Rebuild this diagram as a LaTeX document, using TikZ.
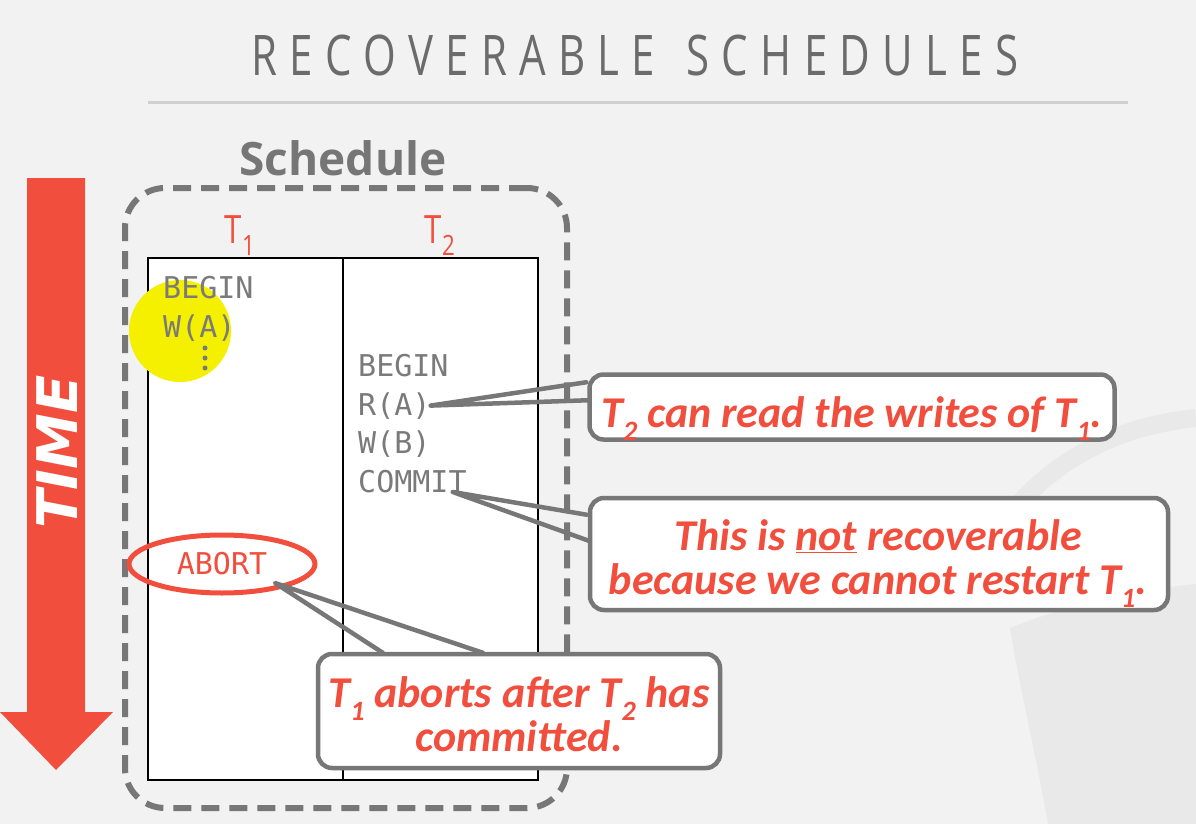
\documentclass[tikz,border=0pt]{standalone}
\usepackage{fontspec}
\usetikzlibrary{positioning,shapes.geometric,calc}
\setmainfont{Open Sans}
\newfontfamily\titlefont{Open Sans}[FakeStretch=0.75,LetterSpace=22]
\newfontfamily\labelfont{Open Sans}[FakeStretch=0.8]
\newfontfamily\codefont{DejaVu Sans Mono}
\newfontfamily\notefont{Carlito}
\newfontfamily\timefont{DejaVu Sans}
\definecolor{bggray}{HTML}{F2F2F2}
\definecolor{titlegray}{HTML}{6B6B6B}
\definecolor{headgray}{HTML}{767676}
\definecolor{linegray}{HTML}{777777}
\definecolor{codegray}{HTML}{7A7A7A}
\definecolor{rulegray}{HTML}{D0D0D0}
\definecolor{dbred}{HTML}{F14E3D}
\definecolor{hilite}{HTML}{F5F000}
\definecolor{wmark}{HTML}{E9E9E9}
\newcommand{\subidx}[2][28]{\raisebox{-0.3em}[0pt][0pt]{\fontsize{#1}{#1}\selectfont #2}}

\begin{document}
\begin{tikzpicture}[x=1pt,y=-1pt,
    code/.style={font=\codefont\fontsize{30}{30}\selectfont,text=codegray,inner sep=0pt,anchor=base west},
    notebox/.style={draw=linegray,line width=4.5pt,fill=white,rounded corners=14pt},
    notetext/.style={align=center,text=dbred,inner sep=0pt,font=\notefont\bfseries\itshape\fontsize{44}{44}\selectfont},
    pointer/.style={draw=linegray,line width=4.5pt,line join=round,line cap=round},
    txlabel/.style={text=dbred,font=\labelfont\fontsize{39}{39}\selectfont}]
    \fill[bggray] (0,0) rectangle (1196,824);
    \useasboundingbox (0,0) rectangle (1196,824);

    % faint logo in the background
    \draw[wmark,line width=18pt] (1005,520) .. controls (1060,450) and (1130,425) .. (1196,418);
    \fill[wmark] (1010,628) .. controls (1080,600) and (1150,588) .. (1196,584) -- (1196,824) -- (1048,824) .. controls (1035,750) and (1020,690) .. (1010,628) -- cycle;

    % title
    \node[anchor=base,text=titlegray,font=\titlefont\fontsize{56}{56}\selectfont] (title) at (635,76) {RECOVERABLE\hspace{8pt} SCHEDULES};
    \draw[rulegray,line width=3pt] (148,103) -- (1128,103);

    % time arrow
    \fill[dbred] (27,178) -- (85,178) -- (85,712) -- (113,712) -- (56,770) -- (0,712) -- (27,712) -- cycle;
    \node[rotate=90,text=white,font=\timefont\bfseries\itshape\fontsize{56}{56}\selectfont] (time) at (57,452) {TIME};

    % schedule
    \node[draw=linegray,line width=6pt,dash pattern=on 18pt off 10pt,rounded corners=40pt,
        minimum width=442pt,minimum height=620pt] (sched) at (346,498) {};
    \node[text=headgray,font=\bfseries\fontsize{46}{46}\selectfont] (schedlabel) at (343,158) {Schedule};
    \node[draw,line width=1.5pt,fill=white,minimum width=390pt,minimum height=522pt] (tbl) at (343,519) {};
    \draw[line width=1.5pt] (tbl.north) -- (tbl.south);
    \fill[hilite] (180,331) circle (51pt);

    \node[txlabel] (t1) at (240,230) {T\subidx[28]{1}};
    \node[txlabel] (t2) at (440,230) {T\subidx[28]{2}};

    \node[code] (begina) at (163,298) {BEGIN};
    \node[code] (wa) at (163,337) {W(A)};
    \foreach \d in {0,1,2} {
        \fill[codegray] (205,348+\d*10) circle (2.5pt);
    }
    \node[code] (beginb) at (358,376) {BEGIN};
    \node[code] (ra) at (358,415) {R(A)};
    \node[code] (wb) at (358,453) {W(B)};
    \node[code] (commit) at (358,492) {COMMIT};
    \node[ellipse,draw=dbred,line width=5pt,minimum width=186pt,minimum height=58pt,inner sep=0pt,
        text=dbred,font=\codefont\fontsize{30}{30}\selectfont] (abort) at (222,564) {ABORT};

    % callouts
    \node[notebox,minimum width=525pt,minimum height=65pt] (readnote) at (852,407) {};
    \node[notetext,anchor=base] (readtext) at (852,427) {T\subidx{2} can read the writes of T\subidx{1}.};
    \draw[pointer] ($(readnote.north west)+(-1,10)$) -- (ra.east) -- ($(readnote.north west)+(1,28)$);

    \node[notebox,minimum width=578pt,minimum height=112pt] (commitnote) at (879,554) {};
    \node[notetext] (committext) at (878,557) {This is \underline{not} recoverable\\because we cannot restart T\subidx{1}.};
    \draw[pointer] ($(commitnote.north west)+(-1,19)$) -- ($(commit.base east)+(-14,0)$) -- ($(commitnote.north west)+(1,45)$);

    \node[notebox,minimum width=402pt,minimum height=114pt] (abortnote) at (519,711) {};
    \node[notetext] (aborttext) at (519,714) {T\subidx{1} aborts after T\subidx{2} has\\committed.};
    \draw[pointer] ($(abortnote.north west)+(67,1)$) -- ($(abort.center)+(53,19)$) -- ($(abortnote.north west)+(167,1)$);
\end{tikzpicture}
\end{document}
